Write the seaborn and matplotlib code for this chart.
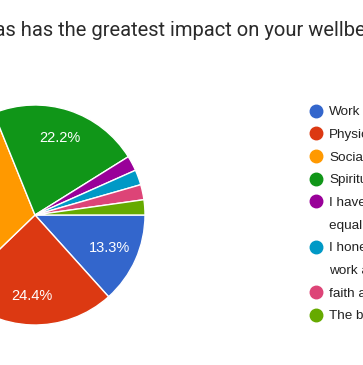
import numpy as np
import pandas as pd
import matplotlib
matplotlib.use("Agg")
import matplotlib.pyplot as plt
from matplotlib.lines import Line2D
import seaborn as sns

# survey answers (45 responses)
areas = ["Work", "Physical", "Social", "Spiritual",
         "I have found them all equally important",
         "I honestly feel like my work affects everything",
         "faith and family", "The balance of all of them"]
counts = [6, 11, 14, 10, 1, 1, 1, 1]
pct_labels = ["13.3%", "24.4%", "31.1%", "22.2%", "", "", "", ""]
legend_lines = ["Work", "Physical", "Social", "Spiritual",
                "I have found them all", "equally important",
                "I honestly feel like my", "work affects everything",
                "faith and family", "The balance of all of them"]
line_owner = [0, 1, 2, 3, 4, None, 5, None, 6, 7]
colors = ["#3366CC", "#DC3912", "#FF9900", "#109618",
          "#990099", "#0099C6", "#DD4477", "#66AA00"]
title = "Which of these areas has the greatest impact on your wellbeing?"

sns.set_theme(style="white")
plt.rcParams['font.family'] = ['Liberation Sans', 'DejaVu Sans']

W, H = 363, 365
fig = plt.figure(figsize=(W / 100, H / 100), dpi=100)

# pie axes: centre (35, 215) px, radius 110 px
cx, cy, r = 35, 215, 110
ax = fig.add_axes([(cx - r) / W, (H - cy - r) / H, 2 * r / W, 2 * r / H])
df = pd.DataFrame({"area": areas, "count": counts})
wedges, _ = ax.pie(df["count"], colors=colors, startangle=0, counterclock=False,
                   wedgeprops=dict(edgecolor="white", linewidth=1))
for w, lab in zip(wedges, pct_labels):
    mid = np.deg2rad((w.theta1 + w.theta2) / 2)
    if lab:
        ax.text(0.74 * np.cos(mid), 0.74 * np.sin(mid), lab, ha="center", va="center",
                color="white", fontsize=10.5)
ax.set_xlim(-1, 1)
ax.set_ylim(-1, 1)
ax.axis("off")

# title, left part runs off the figure
tfont = ["Roboto", "DejaVu Sans"]
tsize = 14.5
tt = fig.text(0, 1 - 36 / H, title, fontsize=tsize, color="#2a2a2a",
              family=tfont, va="baseline")
fig.canvas.draw()
rend = fig.canvas.get_renderer()
a = fig.text(0, 0, "Which of these are as", fontsize=tsize, family=tfont)
b = fig.text(0, 0, "as", fontsize=tsize, family=tfont)
off = a.get_window_extent(rend).width - b.get_window_extent(rend).width
a.remove()
b.remove()
tt.set_x(-(off + 1) / W)

handles = []
for o in line_owner:
    if o is None:
        handles.append(Line2D([], [], linestyle="none", marker="o", alpha=0))
    else:
        handles.append(Line2D([], [], linestyle="none", marker="o", markersize=9,
                              markerfacecolor=colors[o], markeredgecolor=colors[o]))
leg = fig.legend(handles, legend_lines, loc="upper left",
                 bbox_to_anchor=(309 / W, 1 - 106 / H), frameon=False,
                 fontsize=9.7, handlelength=1.0, handletextpad=0.5,
                 labelspacing=0.76, borderpad=0, borderaxespad=0)
for t in leg.get_texts():
    t.set_color("#222222")

fig.savefig("out.png", dpi=100)
